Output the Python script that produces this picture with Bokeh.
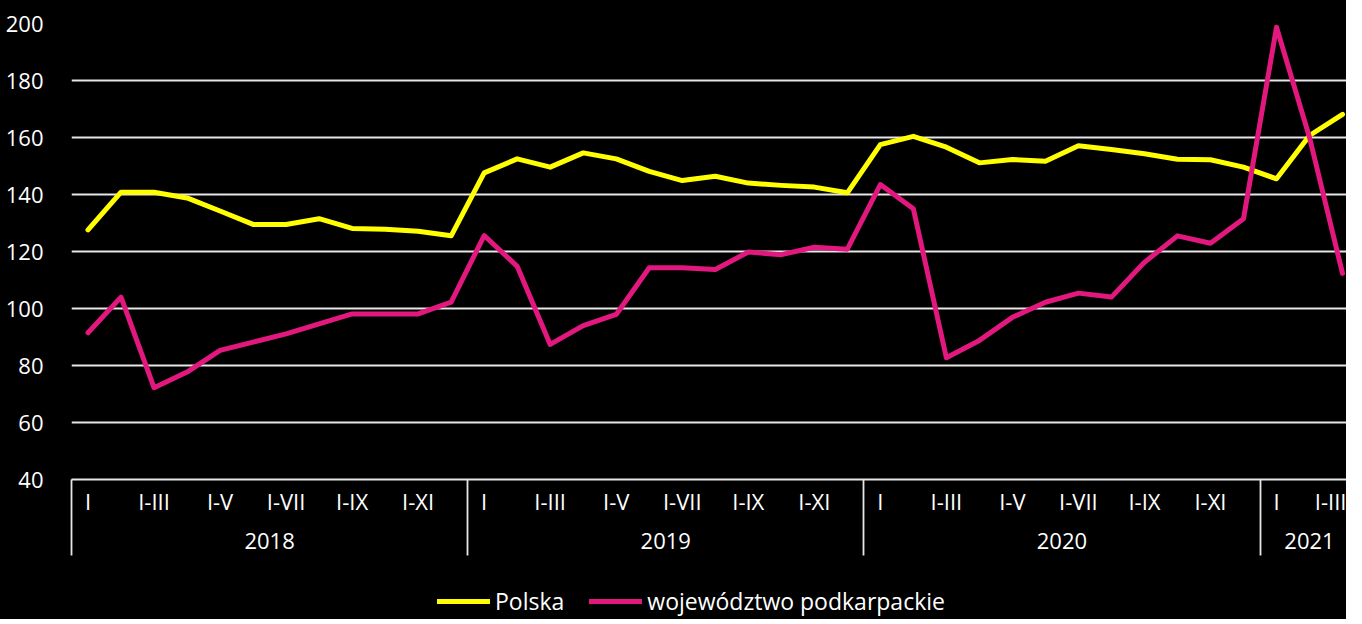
from bokeh.plotting import figure
from bokeh.layouts import column
from bokeh.models import (FixedTicker, LinearAxis, Range1d, ColumnDataSource,
                          Legend, LegendItem)
from bokeh.embed import file_html
from bokeh.resources import INLINE

years = ["2018", "2019", "2020", "2021"]
months_per_year = [12, 12, 12, 3]
month_labels = ["I", "I-II", "I-III", "I-IV", "I-V", "I-VI", "I-VII", "I-VIII",
                "I-IX", "I-X", "I-XI", "I-XII"]

polska = [127.6, 140.8, 140.8, 138.8, 134.2, 129.5, 129.5, 131.5, 128.1, 127.8, 127.1, 125.5,
          147.6, 152.5, 149.6, 154.6, 152.5, 148.1, 144.9, 146.4, 144.0, 143.2, 142.6, 140.6,
          157.5, 160.4, 156.6, 151.1, 152.3, 151.7, 157.1, 155.8, 154.3, 152.4, 152.2, 149.6,
          145.5, 160.7, 168.1]
podkarpackie = [91.5, 104.0, 72.2, 77.7, 85.3, 88.2, 91.1, 94.6, 98.1, 98.1, 98.1, 102.2,
                125.6, 114.8, 87.4, 94.0, 97.9, 114.3, 114.3, 113.7, 119.8, 118.9, 121.5, 120.8,
                143.5, 135.0, 82.7, 88.8, 96.9, 102.2, 105.4, 104.0, 116.2, 125.5, 122.9, 131.5,
                198.7, 160.0, 112.3]

series_names = ["Polska", "województwo podkarpackie"]
series_colors = ["#FFFF00", "#E2187F"]

FONT = "Open Sans"
FS = "22px"
GRID = "#E6E6E6"
BLACK = {"background-color": "black"}

# build index positions and labels
x = list(range(len(polska)))
label_over = {}
year_centers = {}
boundaries = []
i = 0
for yr, n in zip(years, months_per_year):
    boundaries.append(i - 0.5)
    for m in range(n):
        if m % 2 == 0:
            label_over[i + m] = month_labels[m]
    year_centers[i + (n - 1) / 2 if n == 12 else i + 1] = yr
    i += n
boundaries.append(i - 0.5)

src = ColumnDataSource(dict(x=x, polska=polska, podk=podkarpackie))

p = figure(frame_width=1275, frame_height=456, output_backend="svg", toolbar_location=None,
           x_range=Range1d(-0.5, 38.12), y_range=Range1d(40, 200),
           x_axis_type=None, background_fill_color="black",
           border_fill_color="black", outline_line_color=None,
           min_border_left=71, min_border_right=0, min_border_top=23,
           min_border_bottom=100, styles=BLACK)

# y axis styling
ya = p.yaxis[0]
ya.ticker = FixedTicker(ticks=[40, 60, 80, 100, 120, 140, 160, 180, 200])
ya.axis_line_color = None
ya.major_tick_line_color = None
ya.minor_tick_line_color = None
ya.major_label_text_color = "white"
ya.major_label_text_font = FONT
ya.major_label_text_font_size = FS
ya.major_label_standoff = 22

p.ygrid.grid_line_color = GRID
p.ygrid.grid_line_width = 1.8
p.ygrid.ticker = FixedTicker(ticks=[60, 80, 100, 120, 140, 160, 180, 200])
p.xgrid.grid_line_color = None

# month axis (long minor ticks act as year separators)
ma = LinearAxis(ticker=FixedTicker(ticks=sorted(label_over.keys()), minor_ticks=boundaries),
                major_label_overrides={k: v for k, v in label_over.items()})
ma.axis_line_color = GRID
ma.axis_line_width = 1.8
ma.major_tick_line_color = None
ma.major_tick_out = 0
ma.major_tick_in = 0
ma.minor_tick_line_color = GRID
ma.minor_tick_line_width = 1.8
ma.minor_tick_out = 76
ma.minor_tick_in = 0
ma.major_label_text_color = "white"
ma.major_label_text_font = FONT
ma.major_label_text_font_size = FS
ma.major_label_standoff = -70
p.add_layout(ma, "below")

# year axis
yax = LinearAxis(ticker=FixedTicker(ticks=sorted(year_centers.keys())),
                 major_label_overrides={k: v for k, v in year_centers.items()})
yax.axis_line_color = None
yax.major_tick_line_color = None
yax.minor_tick_line_color = None
yax.major_tick_out = 0
yax.major_tick_in = 0
yax.major_label_text_color = "white"
yax.major_label_text_font = FONT
yax.major_label_text_font_size = FS
yax.major_label_standoff = 14
p.add_layout(yax, "below")

r1 = p.line("x", "polska", source=src, line_color=series_colors[0], line_width=5,
            line_join="round", line_cap="round")
r2 = p.line("x", "podk", source=src, line_color=series_colors[1], line_width=5,
            line_join="round", line_cap="round")

# legend strip below the chart (same series, drawn outside its visible range)
lg = figure(width=1346, height=40, output_backend="svg", toolbar_location=None,
            x_range=Range1d(0, 1), y_range=Range1d(0, 1),
            x_axis_type=None, y_axis_type=None, background_fill_color="black",
            border_fill_color="black", outline_line_color=None,
            min_border_left=0, min_border_right=0, min_border_top=0, min_border_bottom=0,
            styles=BLACK)
lg.xgrid.grid_line_color = None
lg.ygrid.grid_line_color = None
l1 = lg.line("x", "polska", source=src, line_color=series_colors[0], line_width=5,
             line_cap="round")
l2 = lg.line("x", "podk", source=src, line_color=series_colors[1], line_width=5,
             line_cap="round")

legend = Legend(items=[LegendItem(label=series_names[0], renderers=[l1]),
                       LegendItem(label=series_names[1], renderers=[l2])],
                orientation="horizontal", location=(366, 2),
                background_fill_alpha=0,
                border_line_color=None, label_text_color="white",
                label_text_font=FONT, label_text_font_size="23px",
                glyph_width=53, glyph_height=20, label_standoff=5, spacing=25,
                padding=0, margin=0)
lg.add_layout(legend, "center")

layout = column(p, lg, spacing=0, styles=BLACK)
open("out.html", "w").write(file_html(layout, INLINE))
